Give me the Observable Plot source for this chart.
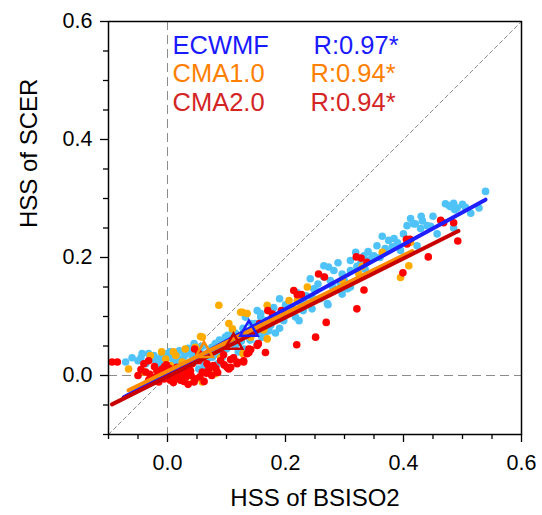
<!DOCTYPE html>
<html>
<head>
<meta charset="utf-8">
<script src="https://cdn.jsdelivr.net/npm/d3@7"></script>
<script src="https://cdn.jsdelivr.net/npm/@observablehq/plot@0.6"></script>
<style>
  html, body { margin: 0; padding: 0; background: white; }
</style>
</head>
<body>
<div id="chart"></div>
<script>
// ---- data ----
const seriesNames = ["ECWMF", "CMA1.0", "CMA2.0"];
const corrLabels = ["R:0.97*", "R:0.94*", "R:0.94*"];
const xTitle = "HSS of BSISO2";
const yTitle = "HSS of SCER";
const majorTicks = [0, 0.2, 0.4, 0.6];
const minorTicks = [-0.1, -0.05, 0.05, 0.1, 0.15, 0.25, 0.3, 0.35, 0.45, 0.5, 0.55];
const domain = [-0.1, 0.6];

const ecmwfPoints = [
  [0.539,0.312],[0.471,0.291],[0.477,0.288],[0.485,0.292],[0.491,0.284],[0.487,0.281],[0.480,0.286],[0.514,0.275],
  [0.528,0.284],[0.432,0.262],[0.446,0.253],[0.457,0.240],[0.485,0.250],[0.412,0.266],[0.420,0.257],[0.429,0.249],
  [0.406,0.254],[0.417,0.257],[0.440,0.254],[0.364,0.236],[0.375,0.229],[0.384,0.232],[0.355,0.220],[0.369,0.215],
  [0.381,0.218],[0.395,0.212],[0.423,0.220],[0.319,0.209],[0.333,0.203],[0.350,0.203],[0.347,0.202],[0.341,0.195],
  [0.321,0.185],[0.327,0.189],[0.289,0.191],[0.265,0.186],[0.273,0.184],[0.282,0.178],[0.296,0.172],[0.310,0.178],
  [0.242,0.164],[0.265,0.167],[0.276,0.161],[0.293,0.155],[0.305,0.147],[0.310,0.150],[0.296,0.138],[0.251,0.144],
  [0.248,0.147],[0.245,0.133],[0.259,0.130],[0.237,0.122],[0.271,0.122],[0.272,0.120],[0.245,0.113],[0.217,0.099],
  [0.223,0.093],[0.197,0.093],[0.183,0.099],[0.158,0.099],[0.152,0.110],[0.183,0.072],[0.166,0.073],[0.146,0.076],
  [0.158,0.105],[0.166,0.093],[0.172,0.076],[0.144,0.076],[0.149,0.088],[0.132,0.099],[0.152,0.054],[0.121,0.065],
  [0.110,0.071],[0.098,0.065],[0.090,0.042],[0.081,0.054],[0.050,0.048],[0.045,0.054],[0.093,0.031],[0.076,0.031],
  [0.042,0.031],[0.031,0.037],[0.000,0.037],[-0.023,0.034],[-0.032,0.037],[-0.043,0.037],[-0.071,0.023],[-0.037,0.020],
  [0.011,0.020],[0.019,0.025],[0.036,0.014],[0.053,0.011],[0.064,0.008],[-0.015,0.020],[-0.009,0.025],
  [0.005,0.030],[0.015,0.035],[0.025,0.028],[0.060,0.035],[0.070,0.040],[0.085,0.036],[0.100,0.045],[0.105,0.055],
  [0.115,0.050],[0.125,0.058],[0.130,0.045],[0.140,0.060],[0.160,0.065],[0.175,0.085],[0.190,0.080],[0.200,0.105],
  [0.210,0.115],[0.225,0.125],[0.230,0.110],[0.255,0.155],[0.280,0.150],[0.300,0.160],[0.310,0.195],[0.335,0.180],
  [0.340,0.210],[0.360,0.200],[0.390,0.225],[0.400,0.240],[0.430,0.270],[0.450,0.270],[0.500,0.290],[0.505,0.285],
  [-0.050,0.025],[-0.060,0.030],[-0.020,0.025],[0.040,0.040],[0.055,0.045],[0.065,0.025],[0.085,0.020],[0.030,0.020],
  [0.220,0.140],[0.200,0.120],[0.235,0.135],[0.180,0.115],[0.190,0.130],
  [0.020,0.042],[0.035,0.046],[0.010,0.027],[-0.005,0.032],[0.045,0.022],[0.070,0.030],[0.080,0.045],[0.095,0.052],
  [0.110,0.060],[0.120,0.040],[0.060,0.050],[-0.028,0.028],[-0.045,0.030],[0.050,0.035],[0.135,0.070],[0.165,0.082],
  [0.075,0.048],[0.088,0.060],[0.102,0.068],[0.115,0.072],[0.128,0.080],[0.142,0.088],[0.155,0.075],[0.015,0.018],
  [0.028,0.032],[-0.012,0.030],[0.004,0.040],[0.062,0.018],[0.048,0.028]
];
const cma1Points = [
  [0.124,0.107],[0.135,0.105],[0.127,0.107],[0.104,0.088],[0.110,0.079],[0.087,0.119],[0.059,0.065],[0.056,0.066],
  [0.047,0.048],[-0.029,0.034],[-0.066,0.011],[-0.040,0.006],[-0.003,0.028],[0.005,0.017],[0.014,0.034],[0.025,0.023],
  [0.070,0.006],[0.081,0.003],[0.059,-0.011],[0.045,-0.008],[0.025,-0.006],[0.169,0.119],[0.206,0.127],[0.220,0.127],
  [0.237,0.150],[0.296,0.162],[0.324,0.173],[0.330,0.185],[0.364,0.209],[0.412,0.226],[0.409,0.186],[0.395,0.166],
  [0.163,0.077],[0.169,0.062],[0.141,0.065],[0.128,0.037],[0.010,0.040],[0.030,0.045],[-0.010,0.040],[0.020,0.005],
  [0.090,0.030],[0.100,0.050],[0.150,0.080]
];
const cma2Points = [
  [0.463,0.263],[0.468,0.259],[0.485,0.259],[0.492,0.228],[0.442,0.201],[0.405,0.231],[0.411,0.231],[0.406,0.223],
  [0.399,0.174],[0.338,0.192],[0.320,0.201],[0.328,0.199],[0.333,0.145],[0.321,0.113],[0.269,0.090],[0.251,0.065],
  [0.256,0.172],[0.266,0.167],[0.227,0.137],[0.214,0.144],[0.220,0.137],[0.219,0.052],[0.166,0.039],[0.170,0.110],
  [0.178,0.104],[0.193,0.110],[0.180,0.094],[0.156,0.088],[0.152,0.051],[0.135,0.037],[0.141,0.044],[0.129,0.025],
  [0.118,0.020],[0.107,0.027],[0.101,0.014],[0.067,0.020],[0.154,0.054],[0.138,0.039],[0.138,0.045],
  [-0.094,0.023],[-0.085,0.023],[-0.040,0.020],[-0.037,0.006],[-0.020,-0.003],[-0.026,-0.006],[-0.009,0.011],
  [-0.006,-0.006],[0.000,0.006],[0.008,0.003],[0.014,-0.003],[0.022,-0.008],[0.031,-0.003],[0.039,0.008],[0.047,-0.006],
  [0.059,0.006],[0.062,-0.010],[0.070,0.011],[0.078,0.017],[0.053,0.025],[0.090,0.025],[0.104,0.011],[0.107,0.014],
  [0.118,0.023],[0.129,0.023],[0.042,0.020],[-0.032,-0.008],[-0.015,-0.011],[0.005,-0.008],[-0.032,0.025],[0.016,0.014],
  [0.053,0.037],[0.046,0.045],[0.045,-0.011],[-0.045,0.010],[-0.050,0.000],[-0.010,0.000],[0.020,0.010],[0.030,0.005],
  [0.010,-0.012],[0.035,-0.015],[0.075,0.000],[0.085,0.005],[0.095,0.035],[0.000,-0.005],[-0.005,0.015],[0.025,0.015],
  [0.060,0.030],[-0.018,0.008],[0.003,0.012],[0.012,0.006],[0.028,-0.010],[-0.022,0.015],[0.036,0.012],
  [-0.030,0.002],[-0.012,-0.004],[0.018,-0.004],[0.040,0.000],[0.055,-0.002],[0.066,0.004],[0.082,0.012],[0.096,0.018],
  [0.112,0.030],[-0.002,0.018],[0.024,0.002]
];
// regression line end points and series means (triangles)
const ecmwfFit = [[-0.074,-0.037],[0.539,0.298]];
const cma1Fit  = [[-0.066,-0.025],[0.415,0.211]];
const cma2Fit  = [[-0.094,-0.049],[0.493,0.245]];
const seriesMeans = [[0.138,0.076],[0.062,0.040],[0.112,0.054]];
const oneToOne = [[-0.1,-0.1],[0.6,0.6]];

// ---- styles ----
const pointColors = ["#4fc3f7", "#ffab00", "#ff0000"];
const lineColors  = ["#1e1eff", "#ff8c00", "#c80000"];
const textColors  = ["#1a1aff", "#ff8000", "#d42525"];
const refStyle = {stroke: "#8c8c8c", strokeWidth: 1};
const rowDy = [24, 52, 81];

const fmt = d3.format(".1f");

const legendMarks = seriesNames.flatMap((name, i) => [
  Plot.text([name], {frameAnchor: "top-left", textAnchor: "start", lineAnchor: "middle",
    dx: 64, dy: rowDy[i], fontSize: 25.5, fill: textColors[i]}),
  Plot.text([corrLabels[i]], {frameAnchor: "top-left", textAnchor: "start", lineAnchor: "middle",
    dx: i === 0 ? 205 : 202, dy: rowDy[i], fontSize: 25.5, fill: textColors[i]})
]);

const chart = Plot.plot({
  width: 542,
  height: 515,
  marginLeft: 108,
  marginRight: 21,
  marginTop: 21,
  marginBottom: 81,
  x: {domain, axis: null},
  y: {domain, axis: null},
  style: {fontFamily: "'Liberation Sans', Arial, sans-serif", fontSize: "21px", background: "white", color: "black"},
  marks: [
    Plot.ruleX([0], {...refStyle, strokeDasharray: "9,5"}),
    Plot.ruleY([0], {...refStyle, strokeDasharray: "9,5"}),
    Plot.line(oneToOne, {x: d => d[0], y: d => d[1], ...refStyle, strokeDasharray: "4,3"}),
    Plot.dot(ecmwfPoints, {x: d => d[0], y: d => d[1], r: 3.8, fill: pointColors[0], stroke: "none"}),
    Plot.dot(cma1Points, {x: d => d[0], y: d => d[1], r: 3.8, fill: pointColors[1], stroke: "none"}),
    Plot.dot(cma2Points, {x: d => d[0], y: d => d[1], r: 3.8, fill: pointColors[2], stroke: "none"}),
    Plot.line(ecmwfFit, {x: d => d[0], y: d => d[1], stroke: lineColors[0], strokeWidth: 4}),
    Plot.line(cma1Fit, {x: d => d[0], y: d => d[1], stroke: lineColors[1], strokeWidth: 4}),
    Plot.line(cma2Fit, {x: d => d[0], y: d => d[1], stroke: lineColors[2], strokeWidth: 4}),
    Plot.dot(seriesMeans, {x: d => d[0], y: d => d[1], symbol: "triangle", r: 6.5, fill: "none",
      stroke: (d, i) => lineColors[i], strokeWidth: 2.5}),
    Plot.frame({stroke: "black", strokeWidth: 1.5}),
    Plot.axisX(minorTicks, {tickSize: 5, tickFormat: () => "", strokeWidth: 1.3, label: null}),
    Plot.axisX(majorTicks, {tickSize: 8, tickPadding: 12, tickFormat: fmt, fontSize: 21.5, strokeWidth: 1.3, label: null}),
    Plot.axisY(minorTicks, {tickSize: 5, tickFormat: () => "", strokeWidth: 1.3, label: null}),
    Plot.axisY(majorTicks, {tickSize: 8, tickPadding: 8, tickFormat: fmt, fontSize: 21.5, strokeWidth: 1.3, label: null}),
    Plot.text([xTitle], {frameAnchor: "bottom", dy: 71, fontSize: 24, fill: "black"}),
    Plot.text([yTitle], {frameAnchor: "left", dx: -79, rotate: -90, fontSize: 24, fill: "black"}),
    ...legendMarks
  ]
});
document.getElementById("chart").appendChild(chart);
</script>
</body>
</html>
